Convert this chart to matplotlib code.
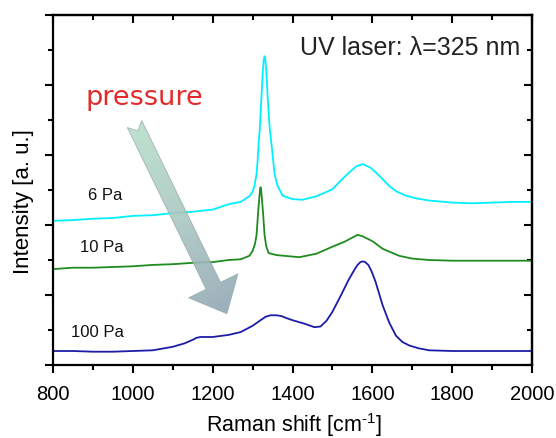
import numpy as np
import matplotlib
matplotlib.use("Agg")
import matplotlib.pyplot as plt
from matplotlib.ticker import MultipleLocator
from matplotlib.patches import Polygon
from matplotlib.colors import LinearSegmentedColormap

plt.rcParams['font.family'] = ['Liberation Sans', 'DejaVu Sans']
plt.rcParams['mathtext.fontset'] = 'custom'
plt.rcParams['mathtext.rm'] = 'Liberation Sans'
plt.rcParams['mathtext.it'] = 'Liberation Sans'

# ---- data ----
x_6pa = [800, 850, 900, 950, 1000, 1050, 1100, 1150, 1200, 1242, 1270, 1292, 1300, 1305,
         1310, 1313, 1315, 1318, 1322, 1324, 1326, 1328, 1330, 1332, 1334, 1336, 1338,
         1343, 1346, 1348, 1352, 1355, 1362, 1375, 1400, 1425, 1460, 1500, 1520, 1542,
         1560, 1577, 1595, 1609, 1625, 1642, 1660, 1684, 1710, 1742, 1800, 1850, 1900,
         1950, 2000]
y_6pa = [2.06, 2.07, 2.09, 2.10, 2.13, 2.14, 2.17, 2.19, 2.22, 2.30, 2.33, 2.41, 2.47, 2.57,
         2.73, 2.95, 3.16, 3.37, 3.80, 4.03, 4.23, 4.36, 4.41, 4.36, 4.23, 4.03, 3.80,
         3.37, 3.22, 3.12, 2.90, 2.73, 2.57, 2.42, 2.37, 2.36, 2.41, 2.51, 2.63, 2.75,
         2.84, 2.87, 2.82, 2.75, 2.66, 2.56, 2.48, 2.42, 2.38, 2.35, 2.32, 2.31, 2.32,
         2.33, 2.33]

x_10pa = [800, 850, 900, 950, 1000, 1050, 1100, 1150, 1200, 1240, 1270, 1292, 1300, 1306,
          1310, 1314, 1317, 1318.5, 1320, 1321.5, 1323, 1326, 1330, 1334, 1340, 1360, 1417,
          1460, 1500, 1530, 1550, 1563, 1575, 1600, 1626, 1667, 1700, 1742, 1800, 1900,
          2000]
y_10pa = [1.37, 1.39, 1.39, 1.40, 1.41, 1.43, 1.44, 1.46, 1.47, 1.50, 1.51, 1.56, 1.63, 1.73,
          1.86, 2.19, 2.40, 2.49, 2.54, 2.49, 2.40, 2.19, 1.86, 1.70, 1.60, 1.57, 1.54,
          1.59, 1.69, 1.76, 1.82, 1.86, 1.84, 1.77, 1.66, 1.56, 1.52, 1.50, 1.49, 1.49,
          1.49]

x_100pa = [800, 850, 900, 950, 1000, 1050, 1100, 1130, 1150, 1160, 1170, 1200, 1240, 1270,
           1300, 1320, 1333, 1345, 1360, 1372, 1385, 1400, 1430, 1455, 1470, 1485, 1500,
           1520, 1540, 1555, 1563, 1570, 1576, 1582, 1590, 1598, 1608, 1626, 1642, 1659,
           1675, 1692, 1715, 1742, 1800, 1900, 2000]
y_100pa = [0.20, 0.20, 0.19, 0.19, 0.20, 0.21, 0.26, 0.31, 0.36, 0.39, 0.40, 0.40, 0.43, 0.47,
           0.56, 0.64, 0.69, 0.71, 0.71, 0.70, 0.67, 0.64, 0.59, 0.54, 0.55, 0.63, 0.76,
           0.98, 1.21, 1.36, 1.43, 1.47, 1.48, 1.47, 1.43, 1.34, 1.19, 0.85, 0.61, 0.42,
           0.33, 0.28, 0.24, 0.21, 0.20, 0.20, 0.20]

labels = ["6 Pa", "10 Pa", "100 Pa"]
colors = ["#00f0ff", "#1e8c1e", "#1c1ca8"]

W, H = 556, 439
fig = plt.figure(figsize=(W / 100, H / 100), dpi=100)
ax = fig.add_axes([53 / W, 1 - 366 / H, 479 / W, 350 / H])

for xs, ys, c in zip([x_6pa, x_10pa, x_100pa], [y_6pa, y_10pa, y_100pa], colors):
    ax.plot(xs, ys, color=c, lw=1.3)

ax.set_xlim(800, 2000)
ax.set_ylim(0, 5)
ax.xaxis.set_major_locator(MultipleLocator(200))
ax.xaxis.set_minor_locator(MultipleLocator(100))
ax.yaxis.set_major_locator(MultipleLocator(1))
ax.yaxis.set_minor_locator(MultipleLocator(0.5))
ax.tick_params(which='both', direction='out', width=1.5, labelsize=14.5)
ax.tick_params(which='major', length=6, pad=8)
ax.tick_params(which='minor', length=3.5)
ax.tick_params(axis='y', labelleft=False)
for s in ax.spines.values():
    s.set_linewidth(1.6)

top = ax.secondary_xaxis('top')
top.xaxis.set_major_locator(MultipleLocator(200))
top.xaxis.set_minor_locator(MultipleLocator(100))
top.tick_params(which='both', direction='in', width=1.5, labeltop=False)
top.tick_params(which='major', length=6)
top.tick_params(which='minor', length=3.5)
top.spines['top'].set_linewidth(1.6)

right = ax.secondary_yaxis('right')
right.yaxis.set_major_locator(MultipleLocator(1))
right.yaxis.set_minor_locator(MultipleLocator(0.5))
right.tick_params(which='both', direction='in', width=1.5, labelright=False)
right.tick_params(which='major', length=6)
right.tick_params(which='minor', length=3.5)
right.spines['right'].set_linewidth(1.6)

ax.set_xlabel(r"Raman shift [cm$^{\text{-1}}$]", fontsize=15.5)
ax.xaxis.set_label_coords((294 - 53) / 479, (366 - 411) / 350)
ax.set_ylabel("Intensity [a. u.]", fontsize=16)
ax.yaxis.set_label_coords((34 - 53) / 479, (366 - 202) / 350)

# texts
fig.text(520 / W, 1 - 55 / H, "UV laser: λ=325 nm", fontsize=18, ha='right',
         va='baseline', color='#222222')
fig.text(86 / W, 1 - 105 / H, "pressure", fontsize=19.5, family='DejaVu Sans',
         ha='left', va='baseline', color='#e22b2b')
for lab, (px, py) in zip(labels, [(88, 200), (80, 252), (71, 337)]):
    fig.text(px / W, 1 - py / H, lab, fontsize=12, ha='left', va='baseline',
             color='#111111')

# gradient arrow overlay
ov = fig.add_axes([0, 0, 1, 1])
ov.set_xlim(0, W)
ov.set_ylim(H, 0)
ov.axis('off')
ov.patch.set_alpha(0)
pts = [(127.3, 128.5), (137.9, 132.0), (141.7, 121.5), (220.5, 283.3), (238.0, 274.8),
       (226.9, 314.7), (188.6, 298.8), (206.1, 290.3)]
poly = Polygon(pts, closed=True, facecolor='none', edgecolor='#8fa8a8', lw=0.6, alpha=0.8)
ov.add_patch(poly)
gx, gy = np.meshgrid(np.linspace(115, 250, 140), np.linspace(110, 325, 220))
t = ((gx - 134.5) * 0.438 + (gy - 125) * 0.899) / 211.0
cmap = LinearSegmentedColormap.from_list('arr', ['#b6dec8', '#a9c6c0', '#8ea5b2'])
im = ov.imshow(t, extent=[115, 250, 325, 110], cmap=cmap, vmin=0, vmax=1,
               alpha=0.88, aspect='auto', interpolation='bilinear')
im.set_clip_path(poly)

fig.savefig("out.png", dpi=100)
